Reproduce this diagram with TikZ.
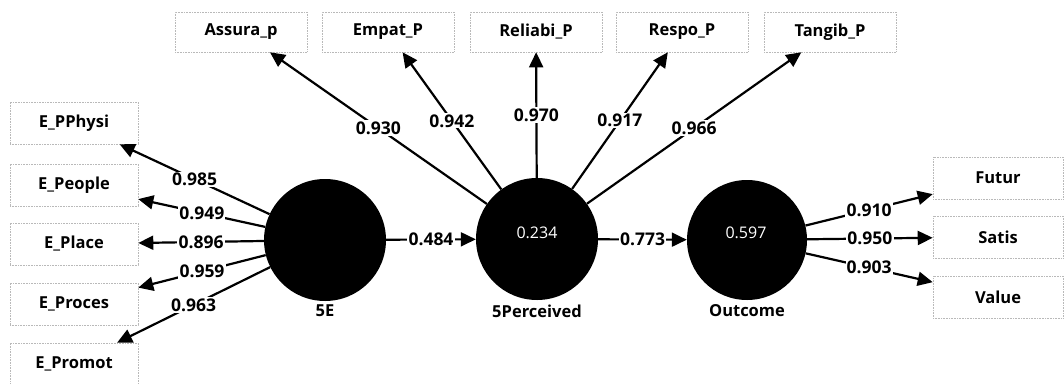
\documentclass[tikz,border=0pt]{standalone}
\usepackage{fontspec}
\setmainfont{Open Sans}
\usetikzlibrary{arrows.meta}
\begin{document}
\begin{tikzpicture}[x=1pt,y=-1pt,
  lv/.style={circle, fill=black, minimum size=122pt, inner sep=0pt},
  ind/.style={draw=gray!55, densely dotted, line width=0.6pt, minimum width=130pt, minimum height=42pt, inner sep=0pt, font=\fontsize{16.5}{18}\selectfont\bfseries},
  ld/.style={-{Triangle[length=15pt,width=14pt]}, line width=2.2pt},
  wt/.style={fill=white, inner sep=1.2pt, font=\fontsize{17.5}{18}\selectfont\bfseries},
  nm/.style={font=\fontsize{16.5}{18}\selectfont\bfseries},
  r2/.style={text=white, font=\fontsize{16}{18}\selectfont}]
\useasboundingbox (0,0) rectangle (1064,383);
% latent variables
\node[lv] (E) at (325,240) {};
\node[lv] (P) at (537,239) {};
\node[lv, minimum size=120pt] (O) at (747,240) {};
\node[r2] (rP) at (537,233) {0.234};
\node[r2] (rO) at (746,233) {0.597};
\node[nm] (lE) at (325,311) {5E};
\node[nm] (lP) at (537,311) {5Perceived};
\node[nm] (lO) at (747,311) {Outcome};
% left indicators
\node[ind, minimum width=128pt] (b1) at (74,123) {E\_PPhysi};
\node[ind, minimum width=128pt] (b2) at (74,185) {E\_People};
\node[ind, minimum width=128pt] (b3) at (74,244) {E\_Place};
\node[ind, minimum width=128pt] (b4) at (74,304) {E\_Proces};
\node[ind, minimum width=128pt] (b5) at (74,364) {E\_Promot};
% top indicators
\node[ind, minimum width=132pt, minimum height=40pt] (t1) at (241,32) {Assura\_p};
\node[ind, minimum width=132pt, minimum height=40pt] (t2) at (388,32) {Empat\_P};
\node[ind, minimum width=132pt, minimum height=40pt] (t3) at (536,32) {Reliabi\_P};
\node[ind, minimum width=132pt, minimum height=40pt] (t4) at (682,32) {Respo\_P};
\node[ind, minimum width=132pt, minimum height=40pt] (t5) at (830,32) {Tangib\_P};
% right indicators
\node[ind] (r1) at (998,178) {Futur};
\node[ind] (r2) at (998,237) {Satis};
\node[ind] (r3) at (998,297) {Value};
% edges
\draw[ld] (E) -- node[wt]{0.985} (b1);
\draw[ld] (E) -- node[wt]{0.949} (b2);
\draw[ld] (E) -- node[wt]{0.896} (b3);
\draw[ld] (E) -- node[wt]{0.959} (b4);
\draw[ld] (E) -- node[wt]{0.963} (b5);
\draw[ld] (P) -- node[wt]{0.930} (t1);
\draw[ld] (P) -- node[wt]{0.942} (t2);
\draw[ld] (P) -- node[wt]{0.970} (t3);
\draw[ld] (P) -- node[wt]{0.917} (t4);
\draw[ld] (P) -- node[wt]{0.966} (t5);
\draw[ld] (O) -- node[wt]{0.910} (r1);
\draw[ld] (O) -- node[wt]{0.950} (r2);
\draw[ld] (O) -- node[wt]{0.903} (r3);
\draw[ld] (E) -- node[wt]{0.484} (P);
\draw[ld] (P) -- node[wt]{0.773} (O);
\end{tikzpicture}
\end{document}
